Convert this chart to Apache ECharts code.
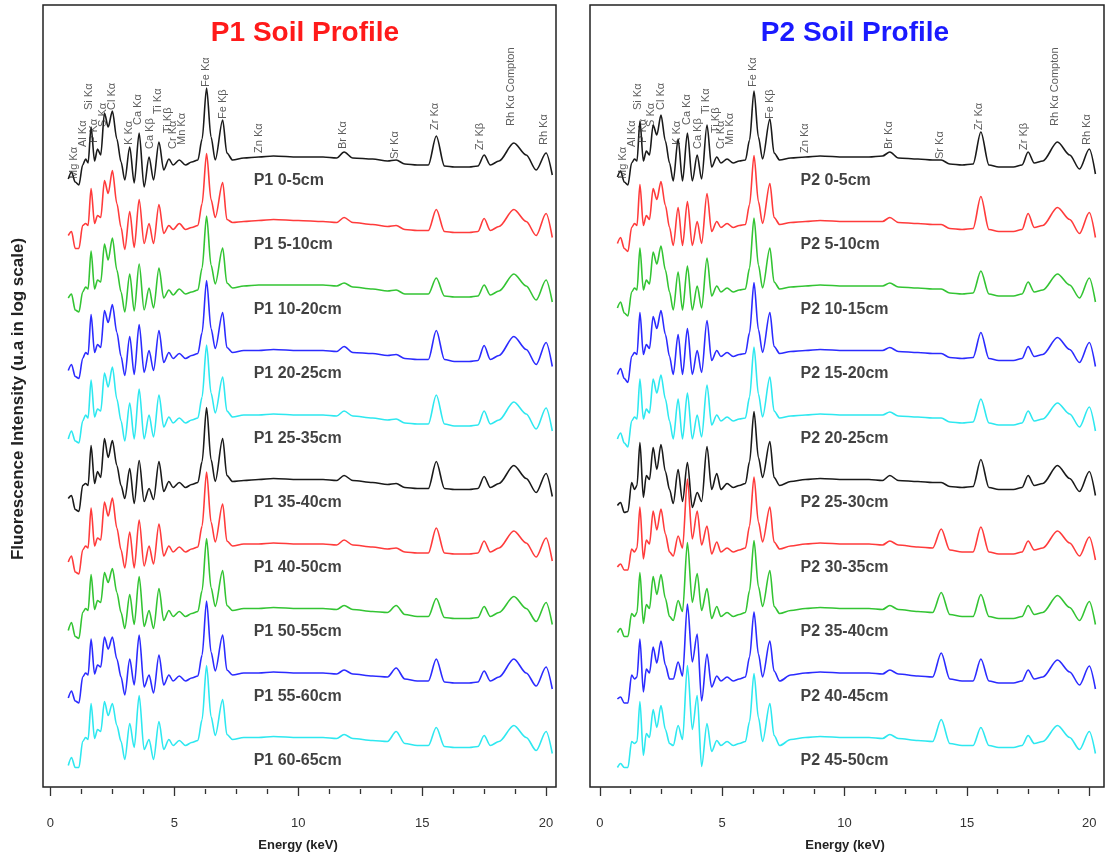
<!DOCTYPE html>
<html>
<head>
<meta charset="utf-8">
<title>XRF spectra of soil profiles P1 and P2</title>
<script src="https://cdn.jsdelivr.net/npm/echarts@6/dist/echarts.min.js"></script>
<style>
  html, body { margin: 0; padding: 0; background: #fff; }
  #chart { width: 1120px; height: 854px; }
</style>
</head>
<body>
<div id="chart"></div>
<script>
// Energy channels (keV) shared by every spectrum
const energyKeV = [
  0.72, 0.85, 1.0, 1.15, 1.3, 1.42, 1.52, 1.64, 1.78, 1.9, 2.03, 2.18, 2.33, 2.5, 2.68, 2.85,
  3.0, 3.2, 3.38, 3.58, 3.78, 3.98, 4.16, 4.38, 4.57, 4.78, 4.95, 5.2, 5.45, 5.7, 5.95, 6.12, 6.3, 6.48, 6.65, 6.95, 7.12, 7.35,
  7.8, 8.4, 9.0, 10.0, 11.0, 11.55, 11.85, 12.2, 13.0, 13.6, 13.95, 14.3, 14.8, 15.25, 15.57, 15.9, 16.3, 16.9, 17.25, 17.5, 17.75, 18.1, 18.7, 19.2, 19.6, 20.0, 20.25
];

// Log-scale fluorescence intensity (a.u., relative to each spectrum's 10 keV background)
// Profile P1
const p1_0_5 = [
  -22, -15, -25, -28, -8, -2, -6, 30, -4, 8, 2, 44, 30, 46, 18, -5,
  -23, 10, -26, 24, -30, 0, -23, 15, -13, -2, -8, -3, -8, -5, -3, 18, 69, 20, -3, 37, 4, -3,
  -1, 0, 1, 0, 0, -1, 5, -1, -2, -4, -3, -7, -8, -8, 21, -9, -10, -10, -9, 2, -8, -4, 14, 2, -13, 4, -18
];
const p1_5_10 = [
  -14, -10, -27, -27, -4, -2, -4, 33, -2, 6, 4, 41, 28, 51, 18, -6,
  -28, 10, -26, 22, -22, -2, -22, 17, -12, -4, -8, -2, -8, -6, -4, 18, 68, 22, 4, 39, 2, -1,
  0, 1, 2, 1, 0, -1, 4, -1, -3, -5, -4, -8, -9, -9, 12, -10, -11, -11, -10, 3, -9, -5, 12, 0, -14, 8, -16
];
const p1_10_20 = [
  -12, -8, -24, -26, -6, -1, -3, 35, -3, 6, 4, 42, 26, 48, 16, -6,
  -26, 12, -25, 22, -24, -2, -22, 18, -12, -4, -9, -3, -8, -6, -4, 18, 70, 21, 2, 38, 3, -2,
  0, 1, 1, 1, 1, 0, 3, -1, -3, -5, -4, -8, -8, -8, 8, -10, -11, -11, -10, 1, -9, -5, 12, 0, -14, 6, -16
];
const p1_20_25 = [
  -20, -14, -26, -28, -8, -2, -4, 36, -2, 6, 3, 40, 28, 46, 18, -6,
  -25, 14, -24, 26, -22, 0, -20, 20, -12, -2, -8, -3, -8, -5, -3, 18, 70, 22, 2, 38, 3, -2,
  0, 0, 1, 0, 0, -1, 4, -2, -3, -5, -4, -8, -9, -9, 20, -9, -11, -11, -10, 5, -9, -5, 14, 1, -14, 8, -16
];
const p1_25_35 = [
  -24, -16, -26, -28, -6, 0, -3, 35, -2, 6, 4, 42, 28, 48, 16, -6,
  -26, 12, -24, 26, -24, 0, -22, 20, -12, -2, -8, -3, -8, -5, -3, 18, 70, 22, 2, 38, 4, -2,
  0, 0, 1, 0, 0, -1, 4, -1, -3, -5, -4, -8, -9, -9, 20, -9, -11, -11, -10, 4, -9, -5, 13, 1, -14, 7, -16
];
const p1_35_40 = [
  -19, -16, -30, -32, -6, -4, -6, 34, -4, 8, 2, 41, 22, 39, 14, -6,
  -19, 11, -24, 19, -22, -9, -20, 18, -12, -2, -8, -3, -8, -5, -3, 18, 72, 20, -2, 41, 4, -2,
  -1, 0, 1, 0, 0, -1, 4, -1, -3, -5, -4, -8, -9, -9, 18, -9, -10, -10, -9, 3, -8, -4, 14, 1, -13, 6, -17
];
const p1_40_50 = [
  -18, -12, -28, -30, -6, -2, -4, 36, -2, 6, 4, 42, 28, 46, 16, -6,
  -24, 12, -24, 24, -22, -2, -20, 20, -12, -2, -8, -3, -8, -5, -3, 18, 72, 22, 2, 40, 3, -2,
  0, 0, 1, 0, 0, -1, 4, -1, -3, -5, -4, -8, -9, -9, 16, -9, -10, -10, -9, 3, -8, -4, 13, 1, -13, 6, -17
];
const p1_50_55 = [
  -22, -14, -28, -30, -4, 0, -2, 34, -1, 8, 6, 36, 26, 40, 16, -4,
  -20, 14, -16, 32, -18, -2, -20, 20, -12, -2, -8, -3, -8, -5, -3, 18, 70, 21, 2, 38, 3, -2,
  0, 0, 1, 0, 0, -1, 3, -1, -3, -4, 3, -6, -8, -8, 10, -9, -10, -10, -9, 2, -8, -4, 12, 0, -13, 6, -16
];
const p1_55_60 = [
  -25, -18, -28, -30, -4, 0, -2, 34, -1, 8, 6, 36, 24, 36, 14, -4,
  -22, 14, -12, 38, -14, -2, -20, 18, -12, -2, -8, -3, -8, -5, -3, 18, 72, 21, 2, 38, 3, -2,
  0, 0, 1, 0, 0, -1, 3, -1, -3, -4, 5, -6, -8, -8, 14, -9, -10, -10, -9, 2, -8, -4, 14, 0, -13, 6, -16
];
const p1_60_65 = [
  -28, -20, -30, -30, -4, 0, -2, 34, -1, 8, 6, 36, 22, 34, 12, -4,
  -22, 14, -10, 42, -12, -2, -22, 16, -12, -2, -8, -3, -8, -5, -3, 18, 72, 21, 2, 38, 3, -2,
  0, 0, 1, 0, 0, -1, 3, -1, -3, -4, 6, -6, -8, -8, 10, -9, -10, -10, -9, 2, -8, -4, 12, 0, -13, 6, -16
];

// Profile P2
const p2_0_5 = [
  -20, -14, -25, -28, -6, -2, -4, 36, -4, 6, 2, 32, 22, 42, 16, -6,
  -24, 18, -24, 24, -24, 2, -22, 32, -10, 0, -6, -2, -6, -4, -3, 17, 66, 20, -2, 38, 4, -3,
  -1, 0, 1, 0, 0, 1, 5, -1, -2, -3, -3, -7, -8, -7, 25, -8, -10, -10, -8, 5, -6, -4, 15, 2, -12, 8, -17
];
const p2_5_10 = [
  -22, -16, -27, -30, -6, -2, -4, 37, -4, 6, 2, 33, 22, 40, 16, -6,
  -24, 14, -24, 20, -24, 0, -22, 28, -10, 0, -6, -2, -6, -4, -3, 17, 66, 20, -2, 38, 4, -3,
  -1, 0, 1, 0, 0, 0, 4, -1, -2, -3, -3, -7, -8, -7, 25, -8, -10, -10, -8, 8, -6, -4, 14, 2, -12, 9, -16
];
const p2_10_15 = [
  -22, -16, -27, -30, -6, -2, -4, 38, -4, 6, 2, 34, 22, 40, 16, -6,
  -24, 14, -24, 20, -24, 0, -22, 28, -10, 0, -6, -2, -6, -4, -3, 18, 68, 21, -2, 38, 4, -3,
  -1, 0, 1, 0, 0, 0, 3, -1, -2, -3, -3, -7, -8, -7, 15, -8, -10, -10, -8, 4, -6, -4, 12, 1, -12, 8, -16
];
const p2_15_20 = [
  -24, -18, -28, -32, -6, -2, -4, 38, -4, 6, 2, 34, 22, 40, 16, -6,
  -24, 16, -24, 22, -24, 0, -22, 30, -10, 0, -6, -2, -6, -4, -3, 18, 68, 21, -2, 38, 4, -3,
  -1, 0, 1, 0, 0, 0, 3, -1, -2, -3, -3, -7, -8, -7, 18, -8, -10, -10, -8, 4, -6, -4, 13, 1, -12, 8, -16
];
const p2_20_25 = [
  -24, -18, -28, -32, -6, -2, -4, 36, -4, 6, 2, 36, 22, 40, 16, -6,
  -24, 16, -24, 22, -24, 0, -22, 30, -10, 0, -6, -2, -6, -4, -3, 18, 68, 21, -2, 38, 4, -3,
  -1, 0, 1, 0, 0, 0, 3, -1, -2, -3, -3, -7, -8, -7, 16, -8, -10, -10, -8, 4, -6, -4, 12, 1, -12, 8, -16
];
const p2_25_30 = [
  -26, -23, -33, -32, -3, -10, -6, 37, -18, 4, 0, 32, 10, 35, 8, -10,
  -24, 10, -22, 17, -28, -13, -22, 33, -10, 6, -10, -4, -8, -6, -4, 18, 68, 22, 2, 38, 2, -6,
  -2, 0, 1, 0, 0, -1, 4, -1, -2, -3, -3, -7, -8, -7, 20, -8, -10, -10, -8, 4, -6, -4, 14, 1, -12, 8, -16
];
const p2_30_35 = [
  -23, -20, -26, -26, -5, -8, -4, 37, -15, 4, 0, 33, 14, 35, 10, -8,
  -12, 8, -4, 65, 5, 33, -1, 18, -10, 2, -8, -4, -8, -6, -4, 18, 67, 22, 2, 37, 2, -5,
  -2, 0, 1, 0, 0, -1, 3, -1, -3, -4, 15, -6, -8, -8, 17, -8, -10, -10, -8, 3, -6, -4, 13, 1, -12, 7, -16
];
const p2_35_40 = [
  -24, -20, -28, -28, -5, -8, -4, 36, -15, 4, 0, 32, 14, 34, 10, -8,
  -12, 8, -3, 66, 6, 35, -2, 20, -10, 2, -8, -4, -8, -6, -4, 18, 68, 22, 2, 38, 2, -5,
  -2, 0, 1, 0, 0, -1, 3, -1, -3, -4, 16, -6, -8, -8, 14, -8, -10, -10, -8, 3, -6, -4, 13, 1, -12, 7, -16
];
const p2_40_45 = [
  -26, -24, -30, -30, -2, -6, -4, 34, -19, 4, 0, 26, 10, 32, 8, -6,
  -6, 11, -3, 69, 11, 39, -28, 19, -14, -3, -8, -4, -8, -6, -4, 16, 61, 19, -4, 32, 2, -8,
  -2, 0, 1, 0, 0, -1, 3, -1, -3, -4, 20, -6, -8, -8, 14, -8, -10, -10, -8, 3, -6, -4, 13, 1, -12, 7, -16
];
const p2_45_50 = [
  -30, -26, -30, -30, -4, -6, -4, 36, -18, 4, 0, 28, 10, 32, 8, -6,
  -8, 12, -2, 72, 8, 42, -29, 14, -14, -3, -8, -4, -8, -6, -4, 16, 64, 20, -4, 34, 2, -8,
  -2, 0, 1, 0, 0, -1, 3, -1, -3, -4, 18, -6, -8, -8, 10, -8, -10, -10, -8, 2, -6, -4, 12, 0, -12, 6, -16
];

// Sampling depths
const p1Depths = ['0-5cm', '5-10cm', '10-20cm', '20-25cm', '25-35cm', '35-40cm', '40-50cm', '50-55cm', '55-60cm', '60-65cm'];
const p2Depths = ['0-5cm', '5-10cm', '10-15cm', '15-20cm', '20-25cm', '25-30cm', '30-35cm', '35-40cm', '40-45cm', '45-50cm'];

// Emission line annotations: [label, energy keV, label base level a.u. above top background]
const peakLines = [
  ['Mg Kα', 0.95, -22], ['Al Kα', 1.3, 10], ['Si Kα', 1.55, 47], ['P Kα', 1.76, 14],
  ['S Kα', 2.1, 30], ['Cl Kα', 2.5, 47], ['K Kα', 3.15, 12], ['Ca Kα', 3.55, 32],
  ['Ca Kβ', 4.0, 8], ['Ti Kα', 4.35, 43], ['Ti Kβ', 4.75, 24], ['Cr Kα', 4.95, 8],
  ['Mn Kα', 5.3, 12], ['Fe Kα', 6.27, 70], ['Fe Kβ', 6.95, 38], ['Zn Kα', 8.4, 4],
  ['Br Kα', 11.8, 8], ['Sr Kα', 13.9, -2], ['Zr Kα', 15.5, 27], ['Zr Kβ', 17.35, 7],
  ['Rh Kα Compton', 18.6, 31], ['Rh Kα', 19.9, 12]
];

// Axis ticks (keV)
const majorTicks = [0, 5, 10, 15, 20];
const minorTicks = [1.25, 2.5, 3.75, 6.25, 7.5, 8.75, 11.25, 12.5, 13.75, 16.25, 17.5, 18.75];

const p1Spectra = [p1_0_5, p1_5_10, p1_10_20, p1_20_25, p1_25_35, p1_35_40, p1_40_50, p1_50_55, p1_55_60, p1_60_65];
const p2Spectra = [p2_0_5, p2_5_10, p2_10_15, p2_15_20, p2_20_25, p2_25_30, p2_30_35, p2_35_40, p2_40_45, p2_45_50];

[...p1Spectra, ...p2Spectra].forEach((s, i) => {
  if (s.length !== energyKeV.length) throw new Error('spectrum ' + i + ' has ' + s.length + ' points');
});

// ---- layout ----
const FONT = '"Liberation Sans", Arial, Helvetica, sans-serif';
const palette = ['#1a1a1a', '#ff3b3b', '#33c433', '#2b2bff', '#2ee8f0'];
const Y_MAX = 782;          // hidden stacking axis extent
const TOP_BASE = 630;       // background level of the uppermost spectrum
const STEP = 64.5;          // vertical spacing between stacked spectra

const chart = echarts.init(document.getElementById('chart'), null, { renderer: 'canvas' });

const grids = [
  { left: 43, top: 5, width: 513, height: 782, show: true, borderColor: '#222', borderWidth: 1.5, backgroundColor: 'transparent' },
  { left: 590, top: 5, width: 514, height: 782, show: true, borderColor: '#222', borderWidth: 1.5, backgroundColor: 'transparent' }
];
const xRanges = [[-0.3, 20.4], [-0.4, 20.6]];

const xAxes = [];
const yAxes = [];
[0, 1].forEach(g => {
  xAxes.push({
    type: 'value', gridIndex: g, min: xRanges[g][0], max: xRanges[g][1], offset: 2,
    axisLine: { show: false }, splitLine: { show: false },
    axisTick: { show: true, length: 9, lineStyle: { color: '#333', width: 1.3 }, customValues: majorTicks },
    axisLabel: { show: true, margin: 28, fontSize: 13, color: '#333', fontFamily: FONT, customValues: majorTicks }
  });
  xAxes.push({
    type: 'value', gridIndex: g, min: xRanges[g][0], max: xRanges[g][1], offset: 2, position: 'bottom',
    axisLine: { show: false }, splitLine: { show: false },
    axisTick: { show: true, length: 5, lineStyle: { color: '#333', width: 1.3 }, customValues: minorTicks },
    axisLabel: { show: false }
  });
  yAxes.push({ type: 'value', gridIndex: g, min: 0, max: Y_MAX, show: false });
});

const series = [];
function addPanel(g, prefix, spectra, depths) {
  spectra.forEach((vals, i) => {
    const base = TOP_BASE - i * STEP;
    series.push({
      type: 'line', xAxisIndex: g * 2, yAxisIndex: g,
      name: prefix + ' ' + depths[i],
      data: energyKeV.map((e, k) => [e, base + vals[k]]),
      showSymbol: false, smooth: 0.3, smoothMonotone: 'x',
      lineStyle: { color: palette[i % 5], width: 1.6 },
      z: 2 + i, silent: true, animation: false
    });
  });
  // depth labels
  series.push({
    type: 'scatter', xAxisIndex: g * 2, yAxisIndex: g, symbolSize: 0, silent: true, animation: false, z: 20,
    data: depths.map((d, i) => ({ value: [8.2, TOP_BASE - i * STEP - 23.5], name: prefix + ' ' + d })),
    label: { show: true, position: 'right', distance: 0, formatter: p => p.name,
             fontSize: 16, fontWeight: 'bold', color: '#111', fontFamily: FONT }
  });
  // emission line labels above the top spectrum
  series.push({
    type: 'scatter', xAxisIndex: g * 2, yAxisIndex: g, symbolSize: 0, silent: true, animation: false, z: 20,
    data: peakLines.map(p => ({ value: [p[1], TOP_BASE + p[2]], name: p[0] })),
    label: { show: true, position: [0, 0], rotate: 90, align: 'left', verticalAlign: 'middle',
             formatter: p => p.name, fontSize: 11, color: '#333', fontFamily: FONT }
  });
}
addPanel(0, 'P1', p1Spectra, p1Depths);
addPanel(1, 'P2', p2Spectra, p2Depths);

const graphic = [
  { type: 'text', x: 305, y: 33, style: { text: 'P1 Soil Profile', fill: '#ff1a1a', font: 'bold 28px ' + FONT, textAlign: 'center', textVerticalAlign: 'middle' } },
  { type: 'text', x: 855, y: 33, style: { text: 'P2 Soil Profile', fill: '#1a1aff', font: 'bold 28px ' + FONT, textAlign: 'center', textVerticalAlign: 'middle' } },
  { type: 'text', x: 298, y: 845, style: { text: 'Energy (keV)', fill: '#222', font: 'bold 13px ' + FONT, textAlign: 'center', textVerticalAlign: 'middle' } },
  { type: 'text', x: 845, y: 845, style: { text: 'Energy (keV)', fill: '#222', font: 'bold 13px ' + FONT, textAlign: 'center', textVerticalAlign: 'middle' } },
  { type: 'text', x: 18, y: 399, rotation: Math.PI / 2, style: { text: 'Fluorescence Intensity (u.a in log scale)', fill: '#222', font: 'bold 17px ' + FONT, textAlign: 'center', textVerticalAlign: 'middle' } }
];

chart.setOption({
  backgroundColor: '#fff',
  animation: false,
  grid: grids,
  xAxis: xAxes,
  yAxis: yAxes,
  series: series,
  graphic: graphic
});
</script>
</body>
</html>
